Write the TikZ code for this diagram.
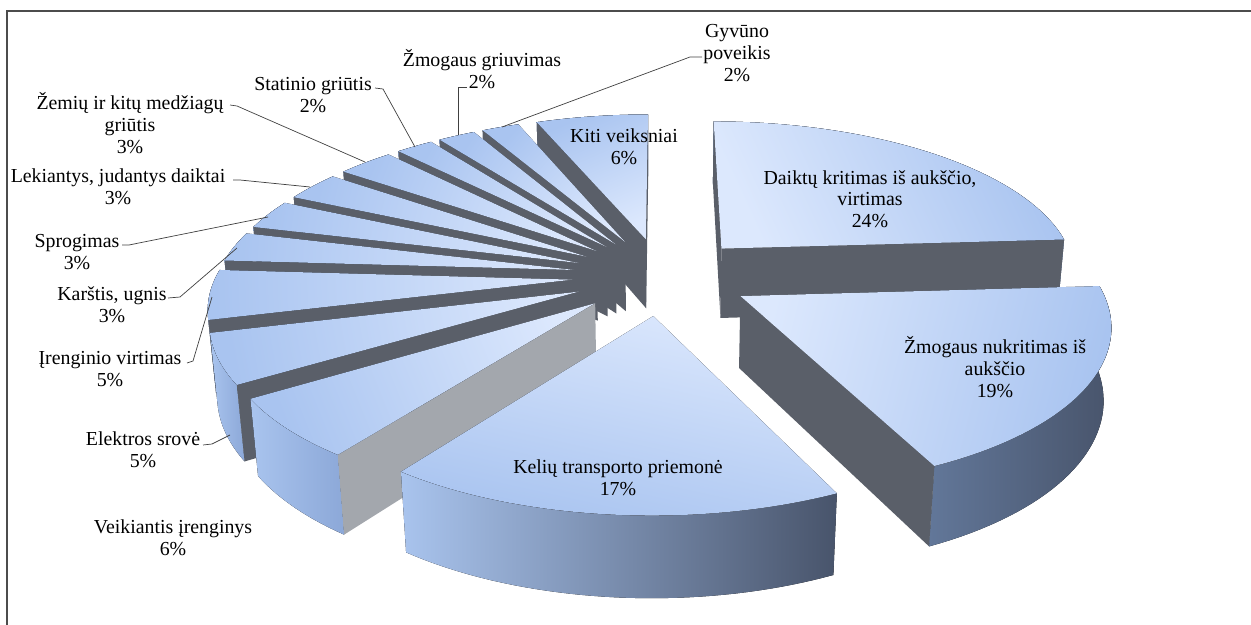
\documentclass[tikz,border=0pt]{standalone}
\usepackage{fontspec}
\setmainfont{Liberation Serif}
\definecolor{facedark}{HTML}{5A5F69}
\definecolor{facegray}{HTML}{A3A7AD}
\definecolor{toplight}{HTML}{DCE8FD}
\definecolor{topblue}{HTML}{A9C4F0}
\definecolor{wallhi}{HTML}{A9C4EE}
\definecolor{wallmid}{HTML}{8CA8D8}
\definecolor{walllo}{HTML}{48546B}
\definecolor{wallsh}{HTML}{627799}
\begin{document}
\begin{tikzpicture}[x=0.02cm, y=-0.02cm,
    declare function={
      sx(\X,\Y,\Z)=662+357*\X/(1+0.155*\Y-0.0746*\Z);
      sy(\X,\Y,\Z)=276-357*(0.4333*\Y+0.901*\Z)/(1+0.155*\Y-0.0746*\Z);
    },
    lbl/.style={align=center, font=\fontsize{11.3}{12.3}\selectfont, inner sep=0pt},
    leader/.style={black!75, line width=0.4pt}]

  \useasboundingbox (0,0) rectangle (1251,625);

  % frame
  \draw[black!70, line width=1.1pt] (1251,11) -- (7,11) -- (7,625);

  % slices, back to front: start/end angle, cut face colours, wall colours
  \foreach \ta/\tb/\ca/\cb/\wl/\wr in {
      90/111.6/facedark/facedark/wallmid/wallmid,
      111.6/118.8/none/facedark/wallmid/wallmid,
      118.8/126/none/facedark/wallmid/wallmid,
      126/133.2/none/facedark/wallmid/wallmid,
      3.6/90/facedark/facedark/wallmid/wallmid,
      133.2/144/none/facedark/wallmid/wallmid,
      144/154.8/none/facedark/wallmid/wallmid,
      154.8/165.6/none/facedark/wallmid/wallmid,
      165.6/176.4/none/facedark/wallhi/wallmid,
      176.4/194.4/none/facedark/wallhi/wallmid,
      194.4/212.4/none/facedark/wallhi/wallmid,
      295.2/363.6/facedark/none/wallsh/walllo,
      212.4/234/none/facegray/wallhi/wallmid,
      234/295.2/none/none/wallhi/walllo}{
    \pgfmathsetmacro\tm{(\ta+\tb)/2}
    \pgfmathsetmacro\ox{0.25*cos(\tm)}
    \pgfmathsetmacro\oy{0.25*sin(\tm)}
    \pgfmathsetmacro\shang{atan2(0.43*sin(\tm),cos(\tm))+90}
    \coordinate (tipT) at ({sx(\ox,\oy,0)},{sy(\ox,\oy,0)});
    \coordinate (tipB) at ({sx(\ox,\oy,-0.224)},{sy(\ox,\oy,-0.224)});
    \coordinate (aT) at ({sx(\ox+cos(\ta),\oy+sin(\ta),0)},{sy(\ox+cos(\ta),\oy+sin(\ta),0)});
    \coordinate (aB) at ({sx(\ox+cos(\ta),\oy+sin(\ta),-0.224)},{sy(\ox+cos(\ta),\oy+sin(\ta),-0.224)});
    \coordinate (bT) at ({sx(\ox+cos(\tb),\oy+sin(\tb),0)},{sy(\ox+cos(\tb),\oy+sin(\tb),0)});
    \coordinate (bB) at ({sx(\ox+cos(\tb),\oy+sin(\tb),-0.224)},{sy(\ox+cos(\tb),\oy+sin(\tb),-0.224)});
    % outer wall
    \fill[left color=\wl, right color=\wr]
      plot[domain=\ta:\tb, samples=40] ({sx(\ox+cos(\x),\oy+sin(\x),0)},{sy(\ox+cos(\x),\oy+sin(\x),0)})
      -- plot[domain=\tb:\ta, samples=40] ({sx(\ox+cos(\x),\oy+sin(\x),-0.224)},{sy(\ox+cos(\x),\oy+sin(\x),-0.224)})
      -- cycle;
    % cut faces
    \fill[fill=\ca] (tipT) -- (aT) -- (aB) -- (tipB) -- cycle;
    \fill[fill=\cb] (tipT) -- (bT) -- (bB) -- (tipB) -- cycle;
    % top face
    \fill[top color=toplight, bottom color=topblue, shading angle=\shang]
      (tipT) -- plot[domain=\ta:\tb, samples=40] ({sx(\ox+cos(\x),\oy+sin(\x),0)},{sy(\ox+cos(\x),\oy+sin(\x),0)})
      -- cycle;
  }

  % labels on the slices
  \node[lbl] (daiktu) at (870,199) {Daiktų kritimas iš aukščio,\\virtimas\\24\%};
  \node[lbl] (zmnuk) at (995,367) {Žmogaus nukritimas iš\\aukščio\\19\%};
  \node[lbl] (keliu) at (618,478) {Kelių transporto priemonė\\17\%};
  \node[lbl] (kiti) at (624,147) {Kiti veiksniai\\6\%};

  % labels outside
  \node[lbl] (gyvuno) at (737,53) {Gyvūno\\poveikis\\2\%};
  \node[lbl] (zmgriuv) at (482,69) {Žmogaus griuvimas\\2\%};
  \node[lbl] (statinio) at (313,95) {Statinio griūtis\\2\%};
  \node[lbl] (zemiu) at (130,123) {Žemių ir kitų medžiagų\\griūtis\\3\%};
  \node[lbl] (lekiantys) at (118,187) {Lekiantys, judantys daiktai\\3\%};
  \node[lbl] (sprogimas) at (77,252) {Sprogimas\\3\%};
  \node[lbl] (karstis) at (112,305) {Karštis, ugnis\\3\%};
  \node[lbl] (irenginio) at (110,369) {Įrenginio virtimas\\5\%};
  \node[lbl] (elektros) at (143,450) {Elektros srovė\\5\%};
  \node[lbl] (veikiantis) at (173,538) {Veikiantis įrenginys\\6\%};

  % leader lines
  \coordinate (gyvuno-a) at (702,57);
  \coordinate (gyvuno-b) at (690,57);
  \coordinate (gyvuno-c) at (502,127);
  \coordinate (zmgriuv-a) at (467,87);
  \coordinate (zmgriuv-b) at (458,87);
  \coordinate (zmgriuv-c) at (458,135);
  \coordinate (statinio-a) at (375,88);
  \coordinate (statinio-b) at (383,89);
  \coordinate (statinio-c) at (415,147);
  \coordinate (zemiu-a) at (230,105);
  \coordinate (zemiu-b) at (237,106);
  \coordinate (zemiu-c) at (365,162);
  \coordinate (lekiantys-a) at (233,180);
  \coordinate (lekiantys-b) at (240,180);
  \coordinate (lekiantys-c) at (310,187);
  \coordinate (sprogimas-a) at (122,245);
  \coordinate (sprogimas-b) at (129,245);
  \coordinate (sprogimas-c) at (268,217);
  \coordinate (karstis-a) at (168,298);
  \coordinate (karstis-b) at (180,297);
  \coordinate (karstis-c) at (237,248);
  \coordinate (irenginio-a) at (187,363);
  \coordinate (irenginio-b) at (193,361);
  \coordinate (irenginio-c) at (212,297);
  \coordinate (elektros-a) at (203,445);
  \coordinate (elektros-b) at (212,444);
  \coordinate (elektros-c) at (230,435);

  \foreach \n in {gyvuno,zmgriuv,statinio,zemiu,lekiantys,sprogimas,karstis,irenginio,elektros}
    \draw[leader] (\n-a) -- (\n-b) -- (\n-c);

\end{tikzpicture}
\end{document}
